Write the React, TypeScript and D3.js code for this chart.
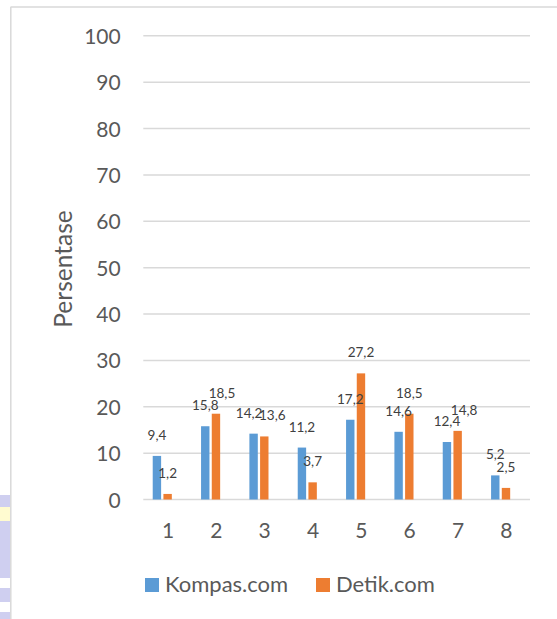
// App.tsx
import { useEffect, useRef } from "react";
import * as d3 from "d3";

const CATEGORIES = ["1", "2", "3", "4", "5", "6", "7", "8"];
const KOMPAS = [9.4, 15.8, 14.2, 11.2, 17.2, 14.6, 12.4, 5.2];
const DETIK = [1.2, 18.5, 13.6, 3.7, 27.2, 18.5, 14.8, 2.5];
const Y_TICKS = [0, 10, 20, 30, 40, 50, 60, 70, 80, 90, 100];
const SERIES_NAMES = ["Kompas.com", "Detik.com"];

// label nudges (Excel moved a few labels sideways to avoid overlap)
const KOMPAS_DX = [0, 0, -4.5, 0, 0, 0, 0, 0];
const DETIK_DX = [0, 6, 8, 0, 0, 0, 6.5, 0];

const BLUE = "#5B9BD5";
const ORANGE = "#ED7D31";
const FONT = "Lato, 'Open Sans', sans-serif";

export default function App() {
	const ref = useRef<SVGSVGElement>(null);

	useEffect(() => {
		const svg = d3.select(ref.current);
		svg.selectAll("*").remove();

		const W = 557;
		const H = 619;

		// Plot area
		const left = 143.3;
		const right = 530;
		const top = 35.8;
		const bottom = 499.5;

		// scanned watermark strip at the left edge
		svg.append("rect").attr("x", 0).attr("y", 495).attr("width", 10).attr("height", 83).attr("fill", "#CFCFF0");
		svg.append("rect").attr("x", 0).attr("y", 507).attr("width", 10).attr("height", 14).attr("fill", "#FFFBD0");
		svg.append("rect").attr("x", 0).attr("y", 588).attr("width", 10).attr("height", 14).attr("fill", "#CFCFF0");
		svg.append("rect").attr("x", 0).attr("y", 612).attr("width", 10).attr("height", 7).attr("fill", "#CFCFF0");

		// chart border (top + left visible)
		svg.append("line").attr("x1", 10.5).attr("x2", W).attr("y1", 7).attr("y2", 7)
			.attr("stroke", "#D9D9D9").attr("stroke-width", 1.5);
		svg.append("line").attr("x1", 10.8).attr("x2", 10.8).attr("y1", 7).attr("y2", H)
			.attr("stroke", "#D9D9D9").attr("stroke-width", 1.5);

		const x = d3.scaleBand().domain(CATEGORIES).range([left, right]).padding(0);
		const y = d3.scaleLinear().domain([0, 100]).range([bottom, top]);

		// Gridlines + y tick labels
		svg.append("g")
			.selectAll("line")
			.data(Y_TICKS)
			.enter()
			.append("line")
			.attr("x1", left)
			.attr("x2", right)
			.attr("y1", d => y(d))
			.attr("y2", d => y(d))
			.attr("stroke", "#D9D9D9")
			.attr("stroke-width", 1.5);

		svg.append("g")
			.selectAll("text")
			.data(Y_TICKS)
			.enter()
			.append("text")
			.attr("x", 120.7)
			.attr("y", d => y(d) + 8)
			.attr("text-anchor", "end")
			.attr("font-family", FONT)
			.attr("font-size", 21)
			.attr("fill", "#595959")
			.text(d => d);

		// x labels
		svg.append("g")
			.selectAll("text")
			.data(CATEGORIES)
			.enter()
			.append("text")
			.attr("x", d => x(d)! + x.bandwidth() / 2 + 0.5)
			.attr("y", 538)
			.attr("text-anchor", "middle")
			.attr("font-family", FONT)
			.attr("font-size", 21)
			.attr("fill", "#595959")
			.text(d => d);

		// Bars
		const barW = 8.4;
		const gap = 2.3;
		const groupShift = -5.2;
		const cx = (c: string) => x(c)! + x.bandwidth() / 2 + groupShift;

		const series = [
			{ values: KOMPAS, color: BLUE, off: -gap / 2 - barW, dx: KOMPAS_DX },
			{ values: DETIK, color: ORANGE, off: gap / 2, dx: DETIK_DX }
		];

		series.forEach(s => {
			svg.append("g")
				.selectAll("rect")
				.data(s.values)
				.enter()
				.append("rect")
				.attr("x", (_, i) => cx(CATEGORIES[i]) + s.off)
				.attr("y", d => y(d))
				.attr("width", barW)
				.attr("height", d => bottom - y(d))
				.attr("fill", s.color);
		});

		// Data labels on top of all bars
		series.forEach(s => {
			svg.append("g")
				.selectAll("text")
				.data(s.values)
				.enter()
				.append("text")
				.attr("x", (_, i) => cx(CATEGORIES[i]) + s.off + barW / 2 + s.dx[i])
				.attr("y", d => y(d) - 16)
				.attr("text-anchor", "middle")
				.attr("font-family", FONT)
				.attr("font-size", 13.5)
				.attr("fill", "#404040")
				.text(d => d.toFixed(1).replace(".", ","));
		});

		// Y axis title
		svg.append("text")
			.attr("transform", `translate(72,269) rotate(-90)`)
			.attr("text-anchor", "middle")
			.attr("font-family", FONT)
			.attr("font-size", 24.5)
			.attr("fill", "#595959")
			.text("Persentase");

		// Legend
		const legend = [
			{ name: SERIES_NAMES[0], color: BLUE, x: 145 },
			{ name: SERIES_NAMES[1], color: ORANGE, x: 316 }
		];
		legend.forEach(l => {
			svg.append("rect")
				.attr("x", l.x)
				.attr("y", 578)
				.attr("width", 14)
				.attr("height", 14)
				.attr("fill", l.color);
			svg.append("text")
				.attr("x", l.x + 20)
				.attr("y", 591.5)
				.attr("font-family", FONT)
				.attr("font-size", 22)
				.attr("fill", "#595959")
				.text(l.name);
		});
	}, []);

	return (
		<svg
			ref={ref}
			width={557}
			height={619}
			style={{ position: "absolute", left: 0, top: 0, background: "#fff" }}
		/>
	);
}
